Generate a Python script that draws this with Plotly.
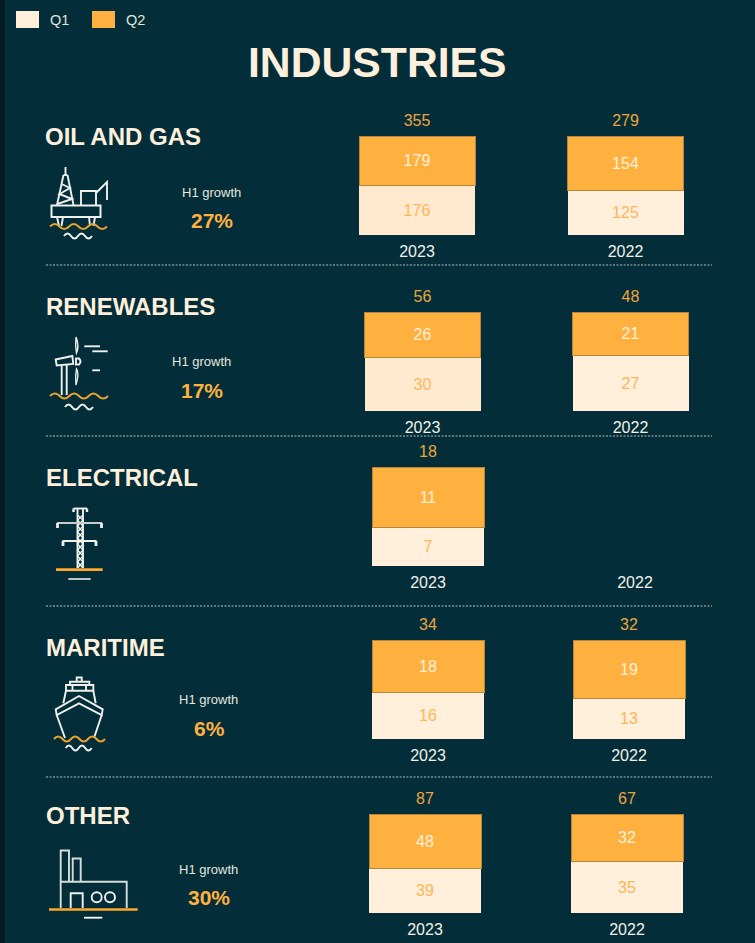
import math
import plotly.graph_objects as go

years = ["2023", "2022"]
sections = ["OIL AND GAS", "RENEWABLES", "ELECTRICAL", "MARITIME", "OTHER"]
q1_values = [[176, 125], [30, 27], [7, None], [16, 13], [39, 35]]
q2_values = [[179, 154], [26, 21], [11, None], [18, 19], [48, 32]]
totals = [[355, 279], [56, 48], [18, None], [34, 32], [87, 67]]
growth = ["27%", "17%", None, "6%", "30%"]

# layout of panels in page pixels: centres of the two bars, bar width, top of bars
bar_centres = [(417, 625.5), (422.5, 630.5), (428, 635), (428, 629), (425, 627)]
bar_widths = [116, 116, 112, 112, 112]
bar_tops = [136, 312, 467, 640, 814]
BAR_H = 99
HEAD = 16  # head room above the bars, inside each panel, for the total labels
title_pos = [(43, 136), (44, 306), (44, 477), (44, 647), (44, 815)]
growth_pos = [(211, 192, 220), (201, 361, 390), None, (208, 699, 728), (208, 869, 897)]
separators = [265, 436, 606, 777]

BG = "#022D39"
STRIP = "#011C22"
Q1 = "#FFEFDB"
Q1B = "#FFEAD0"
Q2 = "#FFB140"
CREAM = "#FFF0DC"
ICON = "#EEF1EC"
WAVE = "#E9A22F"
W, H = 755, 943
FONT = "Liberation Sans, Arial, sans-serif"

fig = go.Figure()
layout = {}
for i, sec in enumerate(sections):
    c0, c1 = bar_centres[i]
    sp = c1 - c0
    top = bar_tops[i]
    k = "" if i == 0 else str(i + 1)
    layout["xaxis" + k] = dict(
        domain=[(c0 - sp / 2) / W, (c1 + sp / 2) / W], type="category",
        categoryorder="array", categoryarray=years, range=[-0.5, 1.5],
        showgrid=False, zeroline=False, showline=False, ticks="",
        ticklabelstandoff=5,
        tickfont=dict(size=16, color="#F3F1E8", family=FONT), fixedrange=True,
        anchor="y" + k,
    )
    layout["yaxis" + k] = dict(
        domain=[1 - (top + BAR_H) / H, 1 - (top - HEAD) / H],
        range=[0, 100 * (BAR_H + HEAD) / BAR_H], visible=False,
        fixedrange=True, anchor="x" + k,
    )
    wd = bar_widths[i] / sp
    q1col = [Q1B if i < 2 else Q1, Q1]
    fig.add_trace(go.Bar(
        x=years, y=q1_values[i], name="Q1", xaxis="x" + k, yaxis="y" + k, width=wd,
        marker=dict(color=q1col, line=dict(width=0)),
        text=["" if v is None else str(v) for v in q1_values[i]],
        textposition="inside", insidetextanchor="middle", textangle=0,
        insidetextfont=dict(size=16, color="#FFB658", family=FONT),
        hoverinfo="skip",
    ))
    fig.add_trace(go.Bar(
        x=years, y=q2_values[i], name="Q2", xaxis="x" + k, yaxis="y" + k, width=wd,
        marker=dict(color=Q2, line=dict(width=1, color="#B5853C")),
        text=["" if v is None else str(v) for v in q2_values[i]],
        textposition="inside", insidetextanchor="middle", textangle=0,
        insidetextfont=dict(size=16, color="#FFF0DC", family=FONT),
        hoverinfo="skip",
    ))
    fig.add_trace(go.Scatter(
        x=[y for y, t in zip(years, totals[i]) if t is not None],
        y=[106 for t in totals[i] if t is not None],
        text=[str(t) for t in totals[i] if t is not None],
        mode="text", textposition="top center", cliponaxis=False,
        textfont=dict(size=16, color="#EDA63C", family=FONT),
        xaxis="x" + k, yaxis="y" + k, hoverinfo="skip",
    ))

# full-page overlay axes in pixels, for decoration and text
layout["xaxis6"] = dict(domain=[0, 1], range=[0, W], visible=False, fixedrange=True, anchor="y6")
layout["yaxis6"] = dict(domain=[0, 1], range=[H, 0], visible=False, fixedrange=True, anchor="x6")
fig.add_trace(go.Scatter(x=[0], y=[0], mode="markers", marker=dict(opacity=0),
                         xaxis="x6", yaxis="y6", hoverinfo="skip"))

shapes, ann = [], []


def sh(path, color=ICON, w=1.9, fill=None):
    shapes.append(dict(type="path", path=path, xref="x6", yref="y6",
                       line=dict(color=color, width=w),
                       fillcolor=fill if fill else "rgba(0,0,0,0)", layer="above"))


def pl(*pts, close=False):
    return "M" + " L".join(f"{x},{y}" for x, y in pts) + (" Z" if close else "")


def wave(x0, x1, y, n, color, amp=2.6, w=2.0):
    step = (x1 - x0) / (2 * n)
    p = f"M{x0},{y}"
    for j in range(2 * n):
        s = 1 if j % 2 else -1
        p += f" Q{x0 + step * (j + .5):.1f},{y + s * 2 * amp:.1f} {x0 + step * (j + 1):.1f},{y}"
    sh(p, color, w)


def circle(cx, cy, r):
    shapes.append(dict(type="circle", xref="x6", yref="y6", x0=cx - r, x1=cx + r, y0=cy - r, y1=cy + r,
                       line=dict(color=ICON, width=1.9), layer="above"))


def rect(x0, y0, x1, y1, fill, ref="x6"):
    shapes.append(dict(type="rect", xref="x6", yref="y6", x0=x0, x1=x1, y0=y0, y1=y1,
                       fillcolor=fill, line=dict(width=0), layer="above"))


def text(x, y, s, size, color, bold=False, anchor="center"):
    ann.append(dict(text=f"<b>{s}</b>" if bold else s, x=x, y=y, xref="x6", yref="y6",
                    xanchor=anchor, yanchor="middle", showarrow=False,
                    font=dict(size=size, color=color, family=FONT)))


# page furniture
shapes.append(dict(type="rect", xref="x6", yref="y6", x0=0, x1=5, y0=0, y1=H,
                   fillcolor=STRIP, line=dict(width=0), layer="below"))
rect(16, 11, 39, 28, Q1)
rect(92, 11, 115, 28, Q2)
text(48, 20, "Q1", 14.5, "#E4E4DC", anchor="left")
text(124, 20, "Q2", 14.5, "#E4E4DC", anchor="left")
text(377, 62, "INDUSTRIES", 42.7, CREAM, bold=True)
for y in separators:
    shapes.append(dict(type="line", xref="x6", yref="y6", x0=46, x1=712, y0=y, y1=y,
                       line=dict(color="#B9C4BF", width=1, dash="2px,1.5px"), layer="above"))
for i, sec in enumerate(sections):
    text(title_pos[i][0], title_pos[i][1], sec, 24, CREAM, bold=True, anchor="left")
    if growth_pos[i]:
        gx, y1, y2 = growth_pos[i]
        text(gx, y1, "H1 growth", 13, "#E6E6DE")
        text(gx + 1, y2, growth[i], 21, Q2, bold=True)

# oil rig
sh(pl((51.5, 205.5), (100.5, 205.5), (100.5, 217), (51.5, 217), close=True), w=2)
sh(pl((65.5, 167), (65.5, 175)))
sh(pl((63.5, 175), (57, 205)))
sh(pl((67.5, 175), (73.5, 205)))
sh(pl((63.5, 175), (67.5, 175)))
sh(pl((61.5, 184), (70, 188), (59.5, 194), (72, 199), (57.5, 204)))
sh(pl((81, 205), (81, 191), (96, 191), (96, 205)))
sh(pl((96, 193), (107, 182), (107, 200)))
sh(pl((57, 217), (59, 226)))
sh(pl((63, 217), (61.5, 226)))
sh(pl((89, 217), (90, 226)))
sh(pl((95, 217), (93.5, 226)))
wave(50, 107, 226.5, 3, WAVE)
wave(64, 92, 236, 2, ICON)

# wind turbine
sh(pl((55.7, 359.5), (72.3, 356), (73.3, 364), (56.7, 365.5), close=True))
sh(pl((61.7, 365.5), (61.7, 395)))
sh(pl((66.7, 365), (66.7, 395)))
sh("M76,358.5 L79,358.5 Q82,361.5 79,364.5 L76,364.5 Z")
sh("M76,337 Q79.5,346 76.5,353 Q75,345 76,337 Z", w=1.4)
sh("M76.5,369 Q79.5,373 76,385 Q75,376 76.5,369 Z", w=1.4)
sh(pl((84.3, 346.3), (100, 346.3)))
sh(pl((92.3, 351.3), (107.7, 351.3)))
sh(pl((92.3, 370.3), (100, 370.3)))
wave(50, 108, 396, 3, WAVE)
wave(65, 93, 407, 2, ICON)

# pylon
sh(pl((77.5, 509), (77.5, 568)))
sh(pl((83, 509), (83, 568)))
sh(pl((73.5, 508.5), (87, 508.5)))
sh(pl((73.5, 508.5), (73.5, 512)), w=2.4)
sh(pl((87, 508.5), (87, 512)), w=2.4)
sh(pl((77.5, 515), (83, 520), (77.5, 526), (83, 532), (77.5, 538), (83, 544), (77.5, 550), (83, 556), (77.5, 562), (83, 568)), w=1.4)
sh(pl((83, 515), (77.5, 520), (83, 526), (77.5, 532), (83, 538), (77.5, 544), (83, 550), (77.5, 556), (83, 562), (77.5, 568)), w=1.4)
sh(pl((57, 523), (102, 523)), "#C6CFCB", 1.8)
sh(pl((62.5, 541), (96.5, 541)))
for x, y0, y1 in [(57.5, 523, 528), (101.5, 523, 528), (63, 541, 546), (96, 541, 546)]:
    sh(pl((x, y0), (x, y1)), w=2.8)
sh(pl((56, 569.7), (102.7, 569.7)), "#FFA82E", 2.8)
sh(pl((68.3, 579), (90.7, 579)), w=1.6)

# ship
sh(pl((76.7, 681.7), (76.7, 677.5), (81.7, 677.5), (81.7, 681.7)))
sh(pl((70, 685), (70, 681.7), (89.3, 681.7), (89.3, 685)))
sh(pl((66, 685), (93.3, 685), (93.3, 690.7), (66, 690.7), close=True))
sh(pl((72.5, 685), (72.5, 690.7)))
sh(pl((86, 685), (86, 690.7)))
sh(pl((66, 690.7), (63.3, 703.3)))
sh(pl((93.3, 690.7), (95.7, 703.3)))
sh(pl((55.7, 709.3), (79, 696), (102.7, 709.3), (101.7, 715), (79, 703.3), (56.7, 715), close=True))
sh(pl((56.7, 715), (65, 738)))
sh(pl((101.7, 715), (94, 738)))
wave(54, 105, 739, 3, WAVE)
wave(65.7, 91.7, 748, 2, ICON)

# factory
sh(pl((60.7, 881.7), (60.7, 850.5), (69, 850.5), (69, 881.7)), "#D7DEDA")
sh(pl((72.7, 881.7), (72.7, 858.5), (80.7, 858.5), (80.7, 881.7)), "#D7DEDA")
sh(pl((60.7, 908), (60.7, 881.7), (126.7, 881.7), (126.7, 908)), "#D7DEDA")
sh(pl((70.7, 908), (70.7, 893.3), (82.7, 893.3), (82.7, 908)), ICON)
circle(96.7, 897.3, 5)
circle(110, 897.3, 5)
sh(pl((49, 909.5), (137.7, 909.5)), "#FFA82E", 2.6)
sh(pl((84, 917.7), (102.3, 917.7)), "#FFFFFF", 1.8)

fig.update_layout(
    width=W, height=H, margin=dict(l=0, r=0, t=0, b=0), autosize=False,
    paper_bgcolor=BG, plot_bgcolor="rgba(0,0,0,0)",
    barmode="stack", barnorm="percent", showlegend=False,
    shapes=shapes, annotations=ann, font=dict(family=FONT),
    **layout,
)
fig.write_html(
    "out.html", config=dict(displayModeBar=False),
    post_script="document.documentElement.style.background='%s';document.body.style.margin='0';document.body.style.overflow='hidden';" % BG,
)
